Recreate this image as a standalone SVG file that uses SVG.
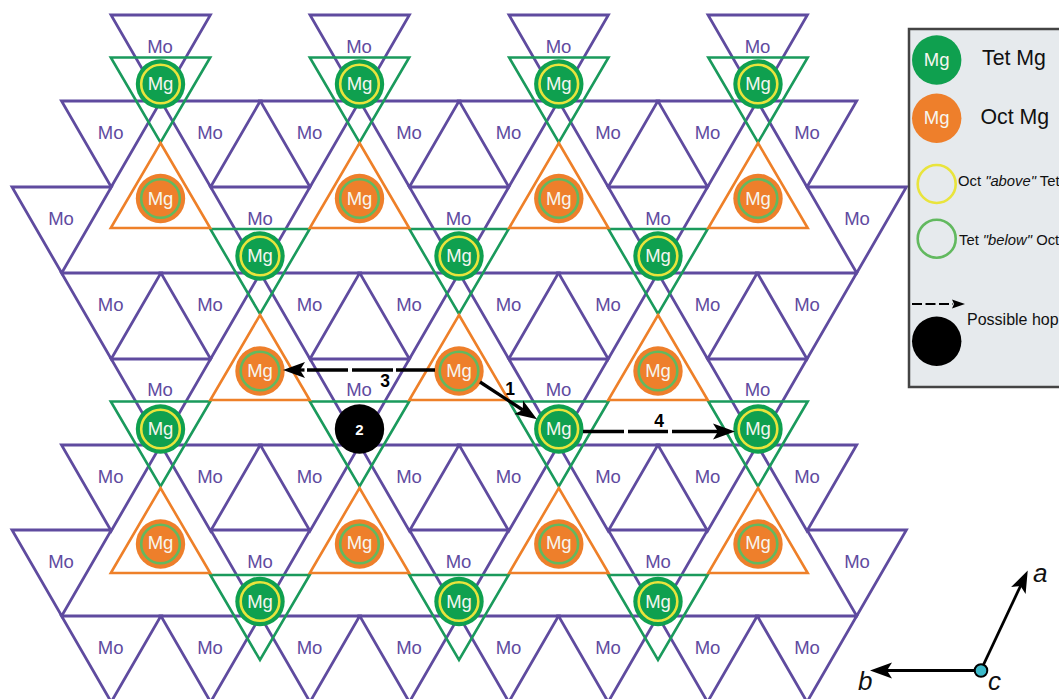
<svg xmlns="http://www.w3.org/2000/svg" xmlns:xlink="http://www.w3.org/1999/xlink" width="1059" height="699" viewBox="0 0 1059 699">
<style>
text{font-family:"Liberation Sans",Arial,sans-serif}
.mo{fill:none;stroke:#5f4b9f;stroke-width:2.8;stroke-linejoin:miter}
.mol{fill:#5f4b9f;font-size:18.5px;text-anchor:middle}
.gt{fill:none;stroke:#1a9a5c;stroke-width:2.6}
.ot{fill:none;stroke:#ee8029;stroke-width:2.6}
.td{fill:#0fa04f}
.od{fill:#ee7f2b}
.yr{fill:none;stroke:#e9e43c;stroke-width:2.6}
.gr{fill:none;stroke:#62b95f;stroke-width:2.6}
.mg{fill:#f6f6f0;font-size:18.5px;text-anchor:middle}
.hop{fill:none;stroke:#000;stroke-width:3.3}
.num{fill:#000;font-size:17.5px;font-weight:bold;text-anchor:middle}
.leg{fill:#111;font-size:21.3px}
.legs{fill:#111;font-size:14.8px}
.ax{fill:#111;font-size:26px;font-style:italic}
</style>
<defs>
<path id="t" class="mo" d="M0 0H99.4L49.7 86Z"/>
<path id="g" class="gt" d="M-49.7 0H49.7L0 85Z"/>
<path id="o" class="ot" d="M0 0L49.7 85H-49.7Z"/>
<marker id="head" markerUnits="userSpaceOnUse" markerWidth="24" markerHeight="18" viewBox="0 -9 24 18" refX="5" refY="0" orient="auto"><path d="M0 -8L22 0L0 8L5 0Z" fill="#000"/></marker>
<marker id="heads" markerUnits="userSpaceOnUse" markerWidth="14" markerHeight="10" viewBox="0 -5 14 10" refX="1" refY="0" orient="auto"><path d="M0 -4.5L13 0L0 4.5L2 0Z" fill="#000"/></marker>
</defs>

<g id="mo-sites">
<g id="mo-a1"><use href="#t" x="111" y="15"/><text class="mol" x="160" y="52.5">Mo</text></g>
<g id="mo-a2"><use href="#t" x="310" y="15"/><text class="mol" x="359" y="52.5">Mo</text></g>
<g id="mo-a3"><use href="#t" x="509" y="15"/><text class="mol" x="558.5" y="52.5">Mo</text></g>
<g id="mo-a4"><use href="#t" x="708" y="15"/><text class="mol" x="757.5" y="52.5">Mo</text></g>

<g id="mo-b1"><use href="#t" x="61.5" y="101"/><text class="mol" x="110.7" y="139">Mo</text></g>
<g id="mo-b2"><use href="#t" x="160.9" y="101"/><text class="mol" x="210" y="139">Mo</text></g>
<g id="mo-b3"><use href="#t" x="260.3" y="101"/><text class="mol" x="309.5" y="139">Mo</text></g>
<g id="mo-b4"><use href="#t" x="359.7" y="101"/><text class="mol" x="409" y="139">Mo</text></g>
<g id="mo-b5"><use href="#t" x="459.1" y="101"/><text class="mol" x="508.5" y="139">Mo</text></g>
<g id="mo-b6"><use href="#t" x="558.5" y="101"/><text class="mol" x="608" y="139">Mo</text></g>
<g id="mo-b7"><use href="#t" x="657.9" y="101"/><text class="mol" x="707.5" y="139">Mo</text></g>
<g id="mo-b8"><use href="#t" x="757.3" y="101"/><text class="mol" x="807" y="139">Mo</text></g>

<g id="mo-c1"><use href="#t" x="12" y="187"/><text class="mol" x="61" y="224.5">Mo</text></g>
<g id="mo-c2"><use href="#t" x="210.6" y="187"/><text class="mol" x="260" y="224.5">Mo</text></g>
<g id="mo-c3"><use href="#t" x="409.4" y="187"/><text class="mol" x="458.5" y="224.5">Mo</text></g>
<g id="mo-c4"><use href="#t" x="608.2" y="187"/><text class="mol" x="658" y="224.5">Mo</text></g>
<g id="mo-c5"><use href="#t" x="807" y="187"/><text class="mol" x="857" y="224.5">Mo</text></g>

<g id="mo-d1"><use href="#t" x="61.5" y="273"/><text class="mol" x="110.7" y="311">Mo</text></g>
<g id="mo-d2"><use href="#t" x="160.9" y="273"/><text class="mol" x="210" y="311">Mo</text></g>
<g id="mo-d3"><use href="#t" x="260.3" y="273"/><text class="mol" x="309.5" y="311">Mo</text></g>
<g id="mo-d4"><use href="#t" x="359.7" y="273"/><text class="mol" x="409" y="311">Mo</text></g>
<g id="mo-d5"><use href="#t" x="459.1" y="273"/><text class="mol" x="508.5" y="311">Mo</text></g>
<g id="mo-d6"><use href="#t" x="558.5" y="273"/><text class="mol" x="608" y="311">Mo</text></g>
<g id="mo-d7"><use href="#t" x="657.9" y="273"/><text class="mol" x="707.5" y="311">Mo</text></g>
<g id="mo-d8"><use href="#t" x="757.3" y="273"/><text class="mol" x="807" y="311">Mo</text></g>

<g id="mo-e1"><use href="#t" x="111.2" y="359"/><text class="mol" x="160" y="396">Mo</text></g>
<g id="mo-e2"><use href="#t" x="310" y="359"/><text class="mol" x="359" y="396">Mo</text></g>
<g id="mo-e3"><use href="#t" x="508.8" y="359"/><text class="mol" x="558.5" y="396">Mo</text></g>
<g id="mo-e4"><use href="#t" x="707.6" y="359"/><text class="mol" x="757.5" y="396">Mo</text></g>

<g id="mo-f1"><use href="#t" x="61.5" y="445"/><text class="mol" x="110.7" y="482.5">Mo</text></g>
<g id="mo-f2"><use href="#t" x="160.9" y="445"/><text class="mol" x="210" y="482.5">Mo</text></g>
<g id="mo-f3"><use href="#t" x="260.3" y="445"/><text class="mol" x="309.5" y="482.5">Mo</text></g>
<g id="mo-f4"><use href="#t" x="359.7" y="445"/><text class="mol" x="409" y="482.5">Mo</text></g>
<g id="mo-f5"><use href="#t" x="459.1" y="445"/><text class="mol" x="508.5" y="482.5">Mo</text></g>
<g id="mo-f6"><use href="#t" x="558.5" y="445"/><text class="mol" x="608" y="482.5">Mo</text></g>
<g id="mo-f7"><use href="#t" x="657.9" y="445"/><text class="mol" x="707.5" y="482.5">Mo</text></g>
<g id="mo-f8"><use href="#t" x="757.3" y="445"/><text class="mol" x="807" y="482.5">Mo</text></g>

<g id="mo-g1"><use href="#t" x="12" y="530"/><text class="mol" x="61" y="567.7">Mo</text></g>
<g id="mo-g2"><use href="#t" x="210.6" y="530"/><text class="mol" x="260" y="567.7">Mo</text></g>
<g id="mo-g3"><use href="#t" x="409.4" y="530"/><text class="mol" x="458.5" y="567.7">Mo</text></g>
<g id="mo-g4"><use href="#t" x="608.2" y="530"/><text class="mol" x="658" y="567.7">Mo</text></g>
<g id="mo-g5"><use href="#t" x="807" y="530"/><text class="mol" x="857" y="567.7">Mo</text></g>

<g id="mo-h1"><use href="#t" x="61.5" y="616"/><text class="mol" x="110.7" y="654">Mo</text></g>
<g id="mo-h2"><use href="#t" x="160.9" y="616"/><text class="mol" x="210" y="654">Mo</text></g>
<g id="mo-h3"><use href="#t" x="260.3" y="616"/><text class="mol" x="309.5" y="654">Mo</text></g>
<g id="mo-h4"><use href="#t" x="359.7" y="616"/><text class="mol" x="409" y="654">Mo</text></g>
<g id="mo-h5"><use href="#t" x="459.1" y="616"/><text class="mol" x="508.5" y="654">Mo</text></g>
<g id="mo-h6"><use href="#t" x="558.5" y="616"/><text class="mol" x="608" y="654">Mo</text></g>
<g id="mo-h7"><use href="#t" x="657.9" y="616"/><text class="mol" x="707.5" y="654">Mo</text></g>
<g id="mo-h8"><use href="#t" x="757.3" y="616"/><text class="mol" x="807" y="654">Mo</text></g>
</g>

<g id="tet-sites">
<g id="tet-1a"><use href="#g" x="160.5" y="57.5"/><circle class="td" cx="160.5" cy="84" r="24.7"/><circle class="yr" cx="160.5" cy="84" r="19.3"/><text class="mg" x="160.5" y="90">Mg</text></g>
<g id="tet-1b"><use href="#g" x="359.5" y="57.5"/><circle class="td" cx="359.5" cy="84" r="24.7"/><circle class="yr" cx="359.5" cy="84" r="19.3"/><text class="mg" x="359.5" y="90">Mg</text></g>
<g id="tet-1c"><use href="#g" x="558.8" y="57.5"/><circle class="td" cx="558.8" cy="84" r="24.7"/><circle class="yr" cx="558.8" cy="84" r="19.3"/><text class="mg" x="558.8" y="90">Mg</text></g>
<g id="tet-1d"><use href="#g" x="758" y="57.5"/><circle class="td" cx="758" cy="84" r="24.7"/><circle class="yr" cx="758" cy="84" r="19.3"/><text class="mg" x="758" y="90">Mg</text></g>

<g id="tet-2a"><use href="#g" x="260" y="229"/><circle class="td" cx="260" cy="256" r="24.7"/><circle class="yr" cx="260" cy="256" r="19.3"/><text class="mg" x="260" y="262">Mg</text></g>
<g id="tet-2b"><use href="#g" x="459" y="229"/><circle class="td" cx="459" cy="256" r="24.7"/><circle class="yr" cx="459" cy="256" r="19.3"/><text class="mg" x="459" y="262">Mg</text></g>
<g id="tet-2c"><use href="#g" x="658" y="229"/><circle class="td" cx="658" cy="256" r="24.7"/><circle class="yr" cx="658" cy="256" r="19.3"/><text class="mg" x="658" y="262">Mg</text></g>

<g id="tet-3a"><use href="#g" x="160.5" y="401.5"/><circle class="td" cx="160.5" cy="429" r="24.7"/><circle class="yr" cx="160.5" cy="429" r="19.3"/><text class="mg" x="160.5" y="435">Mg</text></g>
<g id="tet-3b"><use href="#g" x="359.5" y="401.5"/><circle cx="359.5" cy="429" r="24.7" fill="#000"/><text x="359.5" y="434.5" fill="#fff" font-size="15" font-weight="bold" text-anchor="middle">2</text></g>
<g id="tet-3c"><use href="#g" x="558.8" y="401.5"/><circle class="td" cx="558.8" cy="429" r="24.7"/><circle class="yr" cx="558.8" cy="429" r="19.3"/><text class="mg" x="558.8" y="435">Mg</text></g>
<g id="tet-3d"><use href="#g" x="758" y="401.5"/><circle class="td" cx="758" cy="429" r="24.7"/><circle class="yr" cx="758" cy="429" r="19.3"/><text class="mg" x="758" y="435">Mg</text></g>

<g id="tet-4a"><use href="#g" x="260" y="575"/><circle class="td" cx="260" cy="601.5" r="24.7"/><circle class="yr" cx="260" cy="601.5" r="19.3"/><text class="mg" x="260" y="608">Mg</text></g>
<g id="tet-4b"><use href="#g" x="459" y="575"/><circle class="td" cx="459" cy="601.5" r="24.7"/><circle class="yr" cx="459" cy="601.5" r="19.3"/><text class="mg" x="459" y="608">Mg</text></g>
<g id="tet-4c"><use href="#g" x="658" y="575"/><circle class="td" cx="658" cy="601.5" r="24.7"/><circle class="yr" cx="658" cy="601.5" r="19.3"/><text class="mg" x="658" y="608">Mg</text></g>
</g>

<g id="oct-sites">
<g id="oct-1a"><use href="#o" x="160.5" y="143"/><circle class="od" cx="160.5" cy="198.5" r="24.7"/><circle class="gr" cx="160.5" cy="198.5" r="19.3"/><text class="mg" x="160.5" y="204.5">Mg</text></g>
<g id="oct-1b"><use href="#o" x="359.5" y="143"/><circle class="od" cx="359.5" cy="198.5" r="24.7"/><circle class="gr" cx="359.5" cy="198.5" r="19.3"/><text class="mg" x="359.5" y="204.5">Mg</text></g>
<g id="oct-1c"><use href="#o" x="558.8" y="143"/><circle class="od" cx="558.8" cy="198.5" r="24.7"/><circle class="gr" cx="558.8" cy="198.5" r="19.3"/><text class="mg" x="558.8" y="204.5">Mg</text></g>
<g id="oct-1d"><use href="#o" x="758" y="143"/><circle class="od" cx="758" cy="198.5" r="24.7"/><circle class="gr" cx="758" cy="198.5" r="19.3"/><text class="mg" x="758" y="204.5">Mg</text></g>

<g id="oct-2a"><use href="#o" x="260" y="315"/><circle class="od" cx="260" cy="371" r="24.7"/><circle class="gr" cx="260" cy="371" r="19.3"/><text class="mg" x="260" y="377">Mg</text></g>
<g id="oct-2b"><use href="#o" x="459" y="315"/><circle class="od" cx="459" cy="371" r="24.7"/><circle class="gr" cx="459" cy="371" r="19.3"/><text class="mg" x="459" y="377">Mg</text></g>
<g id="oct-2c"><use href="#o" x="658" y="315"/><circle class="od" cx="658" cy="371" r="24.7"/><circle class="gr" cx="658" cy="371" r="19.3"/><text class="mg" x="658" y="377">Mg</text></g>

<g id="oct-3a"><use href="#o" x="160.5" y="488"/><circle class="od" cx="160.5" cy="544" r="24.7"/><circle class="gr" cx="160.5" cy="544" r="19.3"/><text class="mg" x="160.5" y="549">Mg</text></g>
<g id="oct-3b"><use href="#o" x="359.5" y="488"/><circle class="od" cx="359.5" cy="544" r="24.7"/><circle class="gr" cx="359.5" cy="544" r="19.3"/><text class="mg" x="359.5" y="549">Mg</text></g>
<g id="oct-3c"><use href="#o" x="558.8" y="488"/><circle class="od" cx="558.8" cy="544" r="24.7"/><circle class="gr" cx="558.8" cy="544" r="19.3"/><text class="mg" x="558.8" y="549">Mg</text></g>
<g id="oct-3d"><use href="#o" x="758" y="488"/><circle class="od" cx="758" cy="544" r="24.7"/><circle class="gr" cx="758" cy="544" r="19.3"/><text class="mg" x="758" y="549">Mg</text></g>
</g>

<g id="connectors">
<path class="hop" d="M480 382L522.8 410" marker-end="url(#head)"/>
<path class="hop" d="M435 370H396M393 370H352M348 370H307"/>
<path class="hop" d="M304.5 370H300" marker-end="url(#head)"/>
<path class="hop" d="M583 431.5H624M628 431.5H668M672 431.5H718" marker-end="url(#head)"/>
</g>
<g id="hop-labels">
<text class="num" x="510" y="395">1</text>
<text class="num" x="385" y="387">3</text>
<text class="num" x="659" y="427">4</text>
</g>

<g id="legend">
<rect x="909" y="29" width="160" height="358" fill="#e6eaed" stroke="#444" stroke-width="2.5"/>
<circle class="td" cx="936.7" cy="60" r="24.7"/><text class="mg" x="936.7" y="65.7">Mg</text>
<text class="leg" x="982" y="65">Tet Mg</text>
<circle class="od" cx="936.7" cy="118.3" r="24.7"/><text class="mg" x="936.7" y="124">Mg</text>
<text class="leg" x="980.5" y="124">Oct Mg</text>
<circle class="yr" cx="936.7" cy="184" r="19"/>
<text class="legs" x="958" y="186">Oct <tspan font-style="italic">"above"</tspan> Tet</text>
<circle class="gr" cx="936.7" cy="238.7" r="19"/>
<text class="legs" x="959" y="245">Tet <tspan font-style="italic">"below"</tspan> Oct</text>
<path d="M912 304H953" fill="none" stroke="#000" stroke-width="2" stroke-dasharray="10 3.5" marker-end="url(#heads)"/>
<text x="967" y="325" fill="#111" font-size="16">Possible hop</text>
<circle cx="936.7" cy="341.3" r="24.7" fill="#000"/>
</g>

<g id="axes">
<path d="M981 670L1020.5 586" fill="none" stroke="#000" stroke-width="2.8" marker-end="url(#head)"/>
<path d="M981 670.5H887" fill="none" stroke="#000" stroke-width="2.8" marker-end="url(#head)"/>
<circle cx="981" cy="670.5" r="6.3" fill="#3bb9c9" stroke="#000" stroke-width="2"/>
<text class="ax" x="1033" y="581.5">a</text>
<text class="ax" x="858" y="690">b</text>
<text class="ax" x="988" y="690">c</text>
</g>
</svg>
